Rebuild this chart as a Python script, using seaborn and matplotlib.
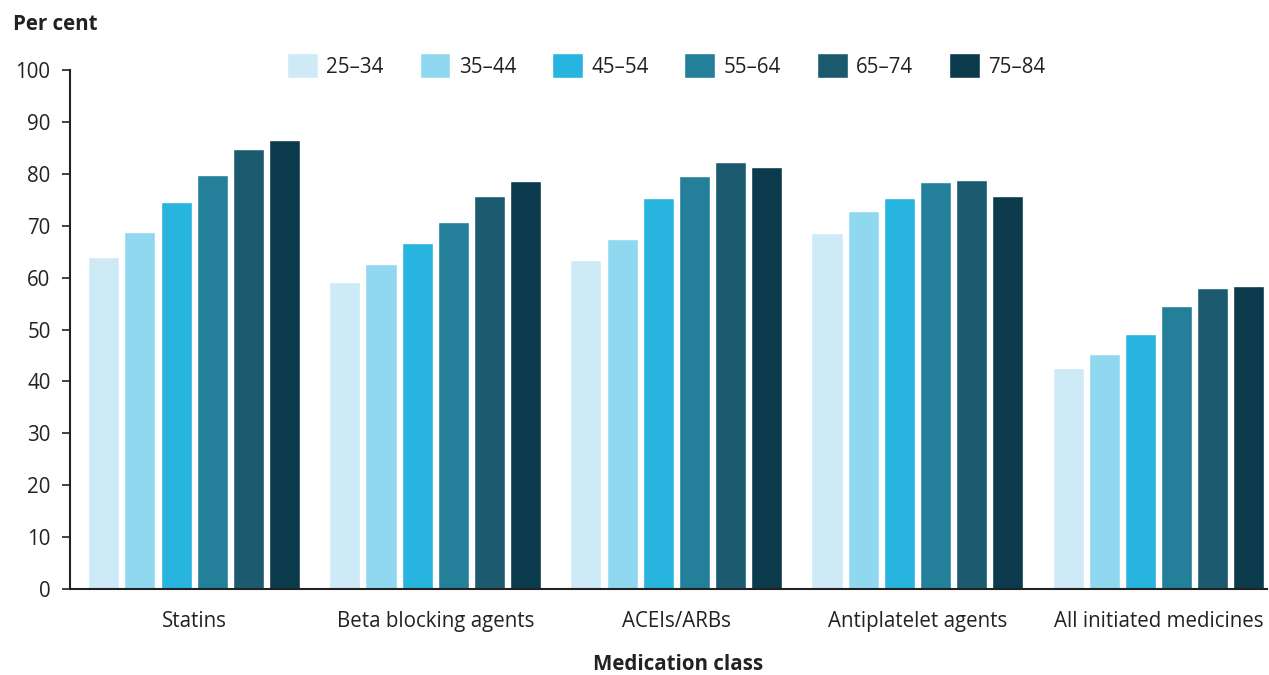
import pandas as pd
import seaborn as sns
import matplotlib.pyplot as plt

# values
classes = ["Statins", "Beta blocking agents", "ACEIs/ARBs", "Antiplatelet agents", "All initiated medicines"]
age_groups = ["25–34", "35–44", "45–54", "55–64", "65–74", "75–84"]

statins = [64.0, 68.8, 74.5, 79.8, 84.7, 86.5]
beta = [59.2, 62.6, 66.6, 70.7, 75.7, 78.7]
acei = [63.3, 67.4, 75.3, 79.5, 82.2, 81.3]
antiplatelet = [68.5, 72.8, 75.3, 78.4, 78.9, 75.7]
all_meds = [42.6, 45.3, 49.2, 54.6, 57.9, 58.3]

colours = ["#cdeaf6", "#8fd8f0", "#27b4df", "#237f9a", "#1c5a70", "#0b3a4c"]

rows = []
for cls, vals in zip(classes, [statins, beta, acei, antiplatelet, all_meds]):
    for age, v in zip(age_groups, vals):
        rows.append({"Medication class": cls, "Age": age, "Per cent": v})
df = pd.DataFrame(rows)

sns.set_style("white")
plt.rcParams['font.family'] = ['Open Sans', 'DejaVu Sans']

fig = plt.figure(figsize=(12.69, 6.75), dpi=100)
ax = fig.add_axes([70 / 1269, 86 / 675, 1197 / 1269, 519 / 675])

sns.barplot(data=df, x="Medication class", y="Per cent", hue="Age",
            hue_order=age_groups, palette=colours, width=0.9, gap=0.14,
            saturation=1, ax=ax)

fs = 14.8
ax.set_ylim(0, 100)
ax.set_xlim(-0.515, 4.45)
ax.set_yticks(range(0, 101, 10))
ax.tick_params(axis="y", labelsize=fs, length=6, width=1.2, color="#222222", labelcolor="#222222", left=True, pad=8)
ax.tick_params(axis="x", labelsize=fs, length=0, pad=16, labelcolor="#222222")
ax.set_xlabel("")
ax.set_ylabel("")

for s in ["top", "right"]:
    ax.spines[s].set_visible(False)
for s in ["left", "bottom"]:
    ax.spines[s].set_color("#222222")
    ax.spines[s].set_linewidth(1.5)

fig.text(13 / 1269, 1 - 25 / 675, "Per cent", fontsize=fs, fontweight="bold",
         va="center", ha="left", color="#222222")
fig.text(678 / 1269, 1 - 664 / 675, "Medication class", fontsize=fs, fontweight="bold",
         va="center", ha="center", color="#222222")

ax.legend(loc="center", bbox_to_anchor=(0.498, 1.008), ncol=6, frameon=False,
          fontsize=fs, handlelength=1.5, handleheight=1.5, handletextpad=0.4,
          columnspacing=1.75, labelcolor="#222222")

fig.savefig("out.png", dpi=100)
